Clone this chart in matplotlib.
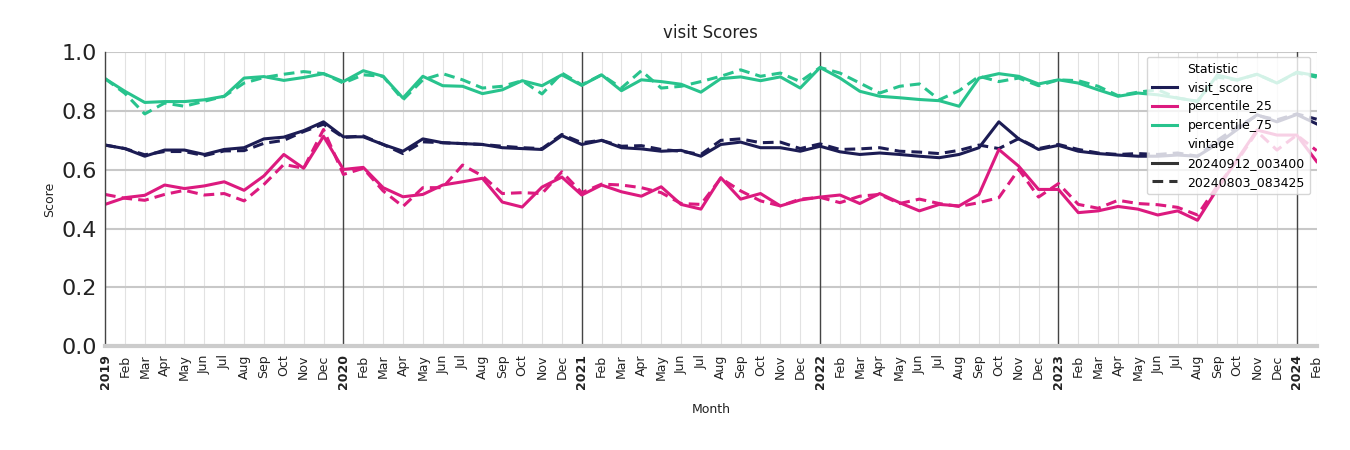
import numpy as np
import pandas as pd
import matplotlib
matplotlib.use("Agg")
import matplotlib.pyplot as plt
from matplotlib.lines import Line2D

months = pd.date_range("2019-01-01", "2024-02-01", freq="MS")

# vintage 20240912_003400 (solid)
visit_new = [0.684, 0.672, 0.646, 0.667, 0.667, 0.652, 0.669, 0.675, 0.705, 0.711, 0.733, 0.763,
             0.712, 0.712, 0.686, 0.663, 0.705, 0.692, 0.689, 0.686, 0.675, 0.672, 0.669, 0.716,
             0.686, 0.700, 0.675, 0.671, 0.663, 0.666, 0.646, 0.686, 0.694, 0.675, 0.675, 0.663,
             0.680, 0.661, 0.652, 0.657, 0.652, 0.646, 0.641, 0.652, 0.675, 0.763, 0.705, 0.669,
             0.683, 0.663, 0.655, 0.650, 0.646, 0.646, 0.650, 0.646, 0.688, 0.737, 0.787, 0.763,
             0.788, 0.756]
p25_new = [0.482, 0.505, 0.513, 0.548, 0.536, 0.545, 0.559, 0.530, 0.579, 0.652, 0.605, 0.714,
           0.601, 0.608, 0.539, 0.508, 0.516, 0.548, 0.559, 0.571, 0.490, 0.473, 0.541, 0.575,
           0.514, 0.548, 0.525, 0.510, 0.542, 0.482, 0.466, 0.573, 0.500, 0.519, 0.477, 0.497,
           0.507, 0.514, 0.485, 0.519, 0.488, 0.460, 0.482, 0.477, 0.516, 0.669, 0.612, 0.533,
           0.533, 0.454, 0.460, 0.475, 0.466, 0.446, 0.460, 0.428, 0.535, 0.635, 0.735, 0.718,
           0.718, 0.628]
p75_new = [0.910, 0.867, 0.829, 0.832, 0.832, 0.838, 0.850, 0.912, 0.917, 0.904, 0.914, 0.927,
           0.900, 0.937, 0.918, 0.844, 0.918, 0.886, 0.884, 0.859, 0.872, 0.903, 0.886, 0.923,
           0.887, 0.923, 0.869, 0.906, 0.900, 0.891, 0.864, 0.910, 0.916, 0.903, 0.916, 0.878,
           0.948, 0.912, 0.867, 0.850, 0.845, 0.839, 0.835, 0.816, 0.912, 0.927, 0.918, 0.892,
           0.906, 0.895, 0.872, 0.850, 0.861, 0.855, 0.844, 0.833, 0.922, 0.906, 0.925, 0.895,
           0.932, 0.920]

# vintage 20240803_083425 (dashed)
visit_old = [0.684, 0.672, 0.651, 0.662, 0.662, 0.648, 0.664, 0.665, 0.690, 0.700, 0.730, 0.755,
             0.710, 0.715, 0.686, 0.655, 0.695, 0.692, 0.689, 0.686, 0.680, 0.675, 0.672, 0.720,
             0.692, 0.700, 0.680, 0.682, 0.669, 0.663, 0.652, 0.700, 0.705, 0.692, 0.694, 0.672,
             0.688, 0.669, 0.671, 0.675, 0.663, 0.660, 0.655, 0.666, 0.684, 0.672, 0.706, 0.672,
             0.686, 0.669, 0.657, 0.652, 0.655, 0.652, 0.657, 0.646, 0.700, 0.745, 0.785, 0.770,
             0.790, 0.772]
p25_old = [0.516, 0.503, 0.496, 0.516, 0.530, 0.514, 0.519, 0.494, 0.550, 0.618, 0.605, 0.737,
           0.584, 0.605, 0.528, 0.475, 0.539, 0.539, 0.616, 0.579, 0.519, 0.522, 0.519, 0.593,
           0.522, 0.551, 0.548, 0.539, 0.522, 0.485, 0.482, 0.571, 0.528, 0.494, 0.477, 0.500,
           0.506, 0.488, 0.510, 0.516, 0.485, 0.500, 0.485, 0.475, 0.488, 0.505, 0.601, 0.507,
           0.553, 0.482, 0.469, 0.496, 0.485, 0.481, 0.472, 0.446, 0.545, 0.630, 0.730, 0.667,
           0.718, 0.665]
p75_old = [0.910, 0.860, 0.790, 0.827, 0.816, 0.833, 0.850, 0.895, 0.914, 0.925, 0.934, 0.927,
           0.895, 0.923, 0.918, 0.838, 0.906, 0.927, 0.906, 0.878, 0.884, 0.903, 0.858, 0.929,
           0.889, 0.923, 0.878, 0.937, 0.878, 0.884, 0.900, 0.918, 0.940, 0.918, 0.929, 0.900,
           0.948, 0.929, 0.895, 0.861, 0.884, 0.892, 0.838, 0.869, 0.918, 0.900, 0.912, 0.886,
           0.906, 0.903, 0.884, 0.852, 0.864, 0.872, 0.844, 0.833, 0.915, 0.905, 0.925, 0.895,
           0.930, 0.915]

colors = {"visit_score": "#1c1c54", "percentile_25": "#dc1a7f", "percentile_75": "#28c38d"}
vintages = ["20240912_003400", "20240803_083425"]

fig = plt.figure(figsize=(13.5, 4.5), dpi=100)
ax = fig.add_axes([0.0778, 0.231, 0.8975, 0.653])

x = np.arange(len(months))
series = [("visit_score", visit_new, visit_old),
          ("percentile_25", p25_new, p25_old),
          ("percentile_75", p75_new, p75_old)]
for name, new, old in series:
    ax.plot(x, new, color=colors[name], lw=2.2, ls="-")
    ax.plot(x, old, color=colors[name], lw=2.2, ls=(0, (3.5, 2)))

# grid
ax.set_ylim(0, 1)
ax.set_xlim(x[0], x[-1])
ax.set_yticks(np.arange(0, 1.01, 0.2))
ax.set_yticklabels([f"{v:.1f}" for v in np.arange(0, 1.01, 0.2)], fontsize=16, color="#222222")
ax.yaxis.grid(True, color="#c8c8c8", lw=1.5)
ax.set_xticks(x)
labels = [str(m.year) if m.month == 1 else m.strftime("%b") for m in months]
ax.set_xticklabels(labels, rotation=90, fontsize=9, color="#222222")
for lab, m in zip(ax.get_xticklabels(), months):
    if m.month == 1:
        lab.set_fontweight("bold")
ax.xaxis.grid(True, color="#e2e2e2", lw=0.8)
for i, m in enumerate(months):
    if m.month == 1 and i > 0:
        ax.axvline(i, color="#444444", lw=1.0, zorder=1)
ax.set_axisbelow(True)
ax.tick_params(length=0, pad=6)

for side in ["top", "right"]:
    ax.spines[side].set_visible(False)
ax.spines["left"].set_color("#444444")
ax.spines["left"].set_linewidth(1.0)
ax.spines["bottom"].set_color("#cccccc")
ax.spines["bottom"].set_linewidth(3)

ax.set_title("visit Scores", fontsize=12, color="#222222", pad=10)
ax.set_ylabel("Score", fontsize=9, color="#222222")
ax.set_xlabel("Month", fontsize=9, color="#222222", labelpad=10)

handles = [Line2D([], [], color="none")]
names = ["Statistic"]
for name in colors:
    handles.append(Line2D([], [], color=colors[name], lw=2.2))
    names.append(name)
handles.append(Line2D([], [], color="none"))
names.append("vintage")
handles.append(Line2D([], [], color="#333333", lw=2.2, ls="-"))
names.append(vintages[0])
handles.append(Line2D([], [], color="#333333", lw=2.2, ls=(0, (3.5, 2))))
names.append(vintages[1])
leg = ax.legend(handles, names, loc="upper right", fontsize=9, framealpha=0.8,
                edgecolor="#cccccc", bbox_to_anchor=(1.0, 1.005),
                handlelength=2.0, borderpad=0.45, labelspacing=0.47)

fig.savefig("out.png", dpi=100)
